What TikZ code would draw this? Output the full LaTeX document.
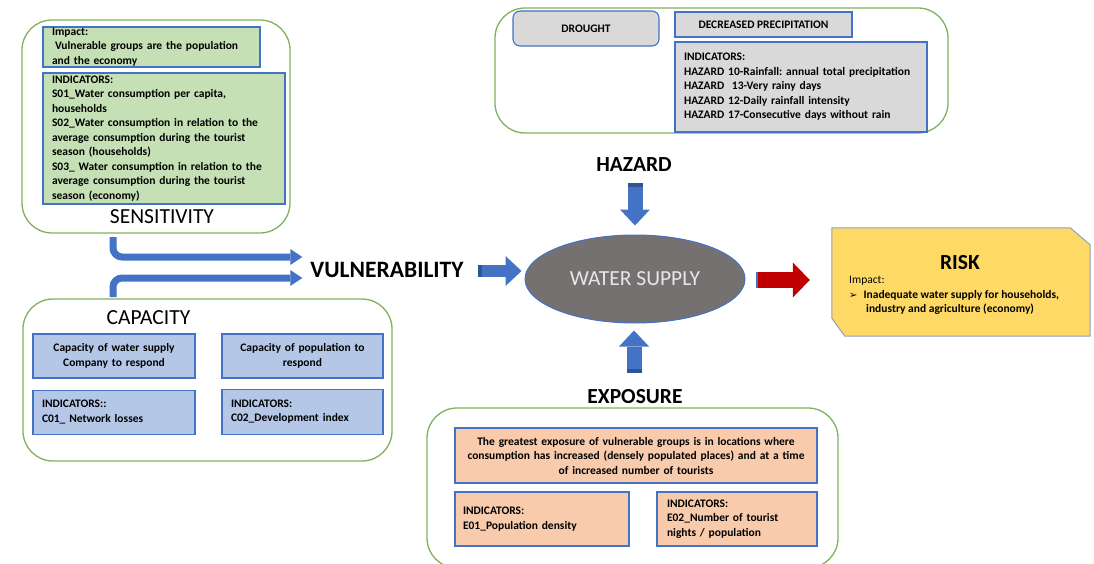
\documentclass[tikz,border=0pt]{standalone}
\usepackage{fontspec}
\setmainfont{Carlito}
\newfontfamily\symfont{DejaVu Sans}
\usetikzlibrary{arrows.meta, positioning, calc, shapes.geometric}

\definecolor{grnline}{RGB}{130,177,94}
\definecolor{boxline}{RGB}{68,114,196}
\definecolor{sensfill}{RGB}{197,224,180}
\definecolor{capfill}{RGB}{180,199,231}
\definecolor{hazfill}{RGB}{217,217,217}
\definecolor{expfill}{RGB}{248,203,173}
\definecolor{riskfill}{RGB}{255,217,102}
\definecolor{riskline}{RGB}{143,160,190}
\definecolor{wsfill}{RGB}{118,113,113}
\definecolor{wstext}{RGB}{231,230,230}
\definecolor{arrblue}{RGB}{68,114,196}
\definecolor{arrdark}{RGB}{47,85,151}
\definecolor{arrred}{RGB}{192,0,0}

\newcommand{\smalltxt}{\fontsize{11.5}{14.5}\selectfont\bfseries\frenchspacing}
\newcommand{\bigtxt}{\fontsize{21.5}{25}\selectfont}

\tikzset{
  outerbox/.style={draw=grnline, line width=1.3pt, rounded corners=30pt, inner sep=0pt},
  inbox/.style={draw=boxline, line width=1.1pt, inner xsep=9pt, inner ysep=0pt, font=\smalltxt},
  title/.style={font=\bigtxt, inner sep=0pt},
  blockarr/.style={line width=15pt, arrblue, -{Triangle[width=30pt,length=16pt,line width=0pt]}},
  bendarr/.style={line width=7pt, arrblue, rounded corners=9pt, -{Triangle[width=16pt,length=12pt,line width=0pt]}},
  tailband/.style={line width=15pt, arrdark}
}

\begin{document}
\begin{tikzpicture}[x=1pt, y=-1pt]
\useasboundingbox (0,0) rectangle (1094,564);
\clip (0,0) rectangle (1094,564);

% sensitivity
\node[outerbox, minimum width=268pt, minimum height=213pt] (sens) at (156,126.5) {};
\node[inbox, fill=sensfill, minimum width=217pt, minimum height=40pt, text width=199pt, align=left] (simp) at (151.5,47)
  {Impact:\\\hspace*{3pt}Vulnerable groups are the population\\and the economy};
\node[inbox, fill=sensfill, minimum width=242pt, minimum height=131pt, text width=224pt, align=left] (sind) at (164,138.5)
  {INDICATORS:\\S01\_Water consumption per capita,\\households\\S02\_Water consumption in relation to the\\average consumption during the tourist\\season (households)\\S03\_ Water consumption in relation to the\\average consumption during the tourist\\season (economy)};
\node[title] (senslbl) at (162,217) {SENSITIVITY};

% capacity
\node[outerbox, minimum width=369pt, minimum height=162pt] (cap) at (207.5,380) {};
\node[title] (caplbl) at (148.5,318) {CAPACITY};
\node[inbox, fill=capfill, minimum width=162pt, minimum height=44pt, text width=144pt, align=center] (c1) at (114,356)
  {Capacity of water supply\\Company to respond};
\node[inbox, fill=capfill, minimum width=161pt, minimum height=44pt, text width=143pt, align=center] (c2) at (302.5,356)
  {Capacity of population to\\respond};
\node[inbox, fill=capfill, minimum width=162pt, minimum height=44pt, text width=144pt, align=left, below=11pt of c1] (c3)
  {INDICATORS::\\C01\_ Network losses};
\node[inbox, fill=capfill, minimum width=161pt, minimum height=45pt, text width=143pt, align=left, below=10pt of c2] (c4)
  {INDICATORS:\\C02\_Development index};

% hazard
\node[outerbox, minimum width=453pt, minimum height=125pt] (haz) at (721.5,70.5) {};
\node[inbox, fill=hazfill, rounded corners=7pt, minimum width=146pt, minimum height=35pt] (drought) at (586,28.5) {DROUGHT};
\node[inbox, fill=hazfill, minimum width=177pt, minimum height=25pt] (precip) at (763.5,24.5) {DECREASED PRECIPITATION};
\node[inbox, fill=hazfill, minimum width=252pt, minimum height=90pt, text width=234pt, align=left] (hind) at (801,87)
  {INDICATORS:\\HAZARD 10-Rainfall: annual total precipitation\\HAZARD\ \ 13-Very rainy days\\HAZARD 12-Daily rainfall intensity\\HAZARD 17-Consecutive days without rain};
\node[title, font=\bigtxt\bfseries] (hzlbl) at (634,165) {HAZARD};

% centre
\node[ellipse, draw=boxline, line width=1pt, fill=wsfill, text=wstext, minimum width=220pt, minimum height=88pt, font=\bigtxt] (ws) at (635,279) {WATER SUPPLY};
\node[title, font=\fontsize{23.5}{27}\selectfont\bfseries] (vullbl) at (387,270) {VULNERABILITY};

% exposure
\node[title, font=\bigtxt\bfseries] (exlbl) at (635,397) {EXPOSURE};
\node[outerbox, minimum width=411pt, minimum height=160pt] (expo) at (632.5,488) {};
\node[inbox, fill=expfill, minimum width=362pt, minimum height=55pt, inner xsep=4pt, text width=354pt, align=center] (e1) at (636,455.5)
  {The greatest exposure of vulnerable groups is in locations where\\consumption has increased (densely populated places) and at a time\\of increased number of tourists};
\node[inbox, fill=expfill, minimum width=174pt, minimum height=54pt, inner xsep=8pt, text width=158pt, align=left] (e2) at (542,519)
  {INDICATORS:\\E01\_Population density};
\node[inbox, fill=expfill, minimum width=160pt, minimum height=54pt, inner xsep=10pt, text width=140pt, align=left] (e3) at (737,519)
  {INDICATORS:\\E02\_Number of tourist\\nights / population};

% risk
\node[minimum width=258pt, minimum height=108pt, inner sep=0pt] (risk) at (961,282) {};
\draw[riskline, line width=1pt, fill=riskfill] (risk.north west) -- ($(risk.north east)+(-20,0)$) -- ($(risk.north east)+(0,17)$)
  -- (risk.south east) -- ($(risk.south west)+(13,0)$) -- ($(risk.south west)+(0,-18)$) -- cycle;
\node[title, font=\bigtxt\bfseries] (risklbl) at (960,263) {RISK};
\node[anchor=north west, inner sep=0pt, font=\smalltxt, align=left] (riskimp) at (849,276)
  {{\mdseries Impact:}\\{\symfont\fontsize{10}{12}\selectfont ➢}\hspace{6pt}Inadequate water supply for households,\\\hspace*{17pt}industry and agriculture (economy)};

% arrows
\coordinate (stail) at (113,237);
\coordinate (ctail) at (113,297);
\draw[bendarr] (stail) |- ($(vullbl.west)+(-8,-13)$);
\draw[bendarr] (ctail) |- ($(vullbl.west)+(-8,8)$);

\draw[blockarr, line width=12pt] ($(vullbl.east)+(14,1)$) -- ($(vullbl.east -| ws.west)+(-3,1)$);
\draw[tailband, line width=12pt] ($(vullbl.east)+(14,1)$) -- ++(4,0);
\draw[blockarr] ($(hzlbl.south)+(1,11)$) -- ($(ws.north)+(0,-9)$);
\draw[tailband] ($(hzlbl.south)+(1,11)$) -- ++(0,4);
\draw[blockarr] ($(exlbl.north)+(-1,-17)$) -- ($(ws.south)+(-1,7)$);
\draw[tailband] ($(exlbl.north)+(-1,-17)$) -- ++(0,-4);
\draw[blockarr, arrred, line width=16pt, -{Triangle[width=35pt,length=17pt,line width=0pt]}] ($(ws.east)+(10,1)$) -- ($(ws.east -| risk.west)+(-22,1)$);
\draw[line width=16pt, arrblue] ($(ws.east)+(10,1)$) -- ++(2,0);
\end{tikzpicture}
\end{document}
